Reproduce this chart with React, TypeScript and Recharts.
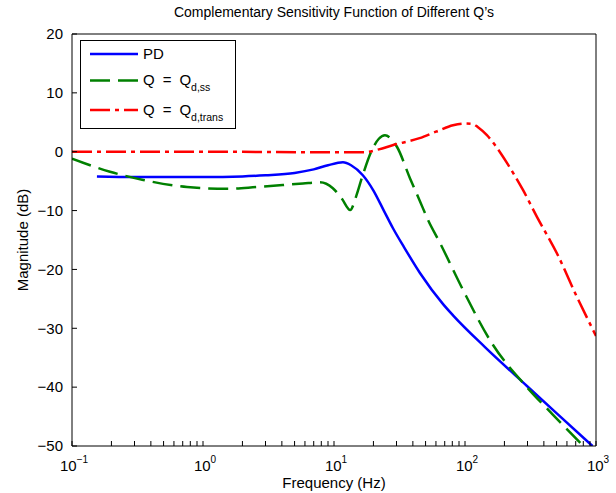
import React from 'react';
import { LineChart, Line, XAxis, YAxis, Legend, Label } from 'recharts';

// PD controller
const pdFreq = [0.155, 0.3, 1, 2, 3, 5, 7, 9, 11.7, 13.5, 16.6, 20, 24, 28.2, 34, 45.3, 68, 81, 142, 297, 504, 940];
const pdMag = [-4.2, -4.3, -4.3, -4.2, -4.0, -3.6, -3.0, -2.3, -1.8, -2.3, -4.0, -6.6, -10, -13.0, -16.1, -20.6, -25.9, -27.8, -33.2, -39.8, -44.5, -50.0];

// Q = Q_d,ss
const ssFreq = [0.1, 0.195, 0.35, 0.755, 1.52, 2.58, 5.8, 7.8, 9.8, 11.5, 13.3, 14.8, 16.4, 19.5, 22, 24.5, 27, 30.3, 38, 45.3, 52.2, 64.4, 96.6, 160, 297, 470, 800];
const ssMag = [-1.2, -3.4, -4.8, -6.0, -6.3, -6.0, -5.4, -5.2, -6.2, -8.0, -9.9, -7.5, -4.3, 0.3, 2.2, 2.8, 2.3, 0.8, -4.5, -8.4, -11.6, -15.5, -23.5, -32.5, -40.0, -44.7, -50.0];

// Q = Q_d,trans
const trFreq = [0.1, 1, 10, 17, 22, 28, 45, 60, 81, 100, 115, 125, 147, 209, 277, 355, 504, 716, 1000];
const trMag = [0, 0, -0.1, -0.1, 0.4, 1.1, 2.3, 3.4, 4.5, 4.8, 4.7, 4.2, 2.8, -1.9, -6.5, -11.1, -17.3, -24.7, -31.3];

const xTicks = [
  0.1, 0.2, 0.3, 0.4, 0.5, 0.6, 0.7, 0.8, 0.9,
  1, 2, 3, 4, 5, 6, 7, 8, 9,
  10, 20, 30, 40, 50, 60, 70, 80, 90,
  100, 200, 300, 400, 500, 600, 700, 800, 900,
  1000,
];
const decadeExp: Record<string, string> = { '0.1': '−1', '1': '0', '10': '1', '100': '2', '1000': '3' };
const yTicks = [-50, -40, -30, -20, -10, 0, 10, 20];

const toRows = (f: number[], m: number[]) => f.map((v, i) => ({ f: v, db: m[i] }));
const pdData = toRows(pdFreq, pdMag);
const ssData = toRows(ssFreq, ssMag);
const trData = toRows(trFreq, trMag);

const FONT = '"Liberation Sans", Arial, Helvetica, sans-serif';

const legendItems = [
  { color: '#0000ff', dash: undefined, sub: '' },
  { color: '#008000', dash: '20 8', sub: 'd,ss' },
  { color: '#ff0000', dash: '20 5 4 5', sub: 'd,trans' },
];

function FreqTick(props: any) {
  const { x, y, payload } = props;
  const exp = decadeExp[String(payload.value)];
  if (exp === undefined) return <g />;
  return (
    <text x={x + 2} y={y + 25} textAnchor="middle" fontSize={15} fill="#000" fontFamily={FONT}>
      <tspan>10</tspan>
      <tspan dy={-8} fontSize={10}>{exp}</tspan>
    </text>
  );
}

function LegendBox() {
  const rowY = [14, 40.5, 70];
  return (
    <svg width={157} height={90} style={{ display: 'block', fontFamily: FONT }}>
      <rect x={0.5} y={0.5} width={155} height={88} fill="#fff" stroke="#000" strokeWidth={1} />
      {legendItems.map((it, i) => (
        <g key={i}>
          <line x1={10} x2={58} y1={rowY[i]} y2={rowY[i]} stroke={it.color} strokeWidth={2.5} strokeDasharray={it.dash} />
          {i === 0 ? (
            <text x={63} y={rowY[i] + 5} fontSize={15} fill="#000">PD</text>
          ) : (
            <text x={63} y={rowY[i] + 4.5} fontSize={15} fill="#000">
              <tspan>Q</tspan>
              <tspan dx={8}>=</tspan>
              <tspan dx={8}>Q</tspan>
              <tspan dy={6} fontSize={10.5}>{it.sub}</tspan>
            </text>
          )}
        </g>
      ))}
    </svg>
  );
}

export default function App() {
  return (
    <div style={{ position: 'absolute', left: 0, top: 0, width: 616, height: 493, background: '#fff', fontFamily: FONT }}>
      <LineChart width={616} height={493} margin={{ top: 24, right: 10, bottom: 7, left: 22 }}>
        <XAxis
          xAxisId="b"
          type="number"
          dataKey="f"
          scale="log"
          domain={[0.1, 1000]}
          allowDataOverflow
          ticks={xTicks}
          interval={0}
          height={40}
          stroke="#000"
          tickSize={-5}
          tickMargin={5}
          tick={<FreqTick />}
        >
          <Label
            content={() => (
              <text x={334} y={488} textAnchor="middle" fontSize={15} fill="#000" fontFamily={FONT}>
                Frequency (Hz)
              </text>
            )}
          />
        </XAxis>
        <XAxis
          xAxisId="t"
          orientation="top"
          type="number"
          dataKey="f"
          scale="log"
          domain={[0.1, 1000]}
          allowDataOverflow
          ticks={xTicks}
          interval={0}
          height={10}
          stroke="#000"
          tickSize={-5}
          tick={false}
        >
          <Label
            content={() => (
              <text x={334} y={17} textAnchor="middle" fontSize={14} fill="#000" fontFamily={FONT}>
                Complementary Sensitivity Function of Different Q’s
              </text>
            )}
          />
        </XAxis>
        <YAxis
          yAxisId="l"
          type="number"
          domain={[-50, 20]}
          allowDataOverflow
          ticks={yTicks}
          interval={0}
          width={50}
          stroke="#000"
          tickSize={-5}
          tickMargin={14}
          tick={{ fontSize: 15, fill: '#000' }}
          tickFormatter={(v: number) => String(v).replace('-', '−')}
        >
          <Label
            content={() => (
              <text
                transform="translate(22,240) rotate(-90)"
                textAnchor="middle"
                dominantBaseline="central"
                fontSize={15}
                fill="#000"
                fontFamily={FONT}
              >
                Magnitude (dB)
              </text>
            )}
          />
        </YAxis>
        <YAxis
          yAxisId="r"
          orientation="right"
          type="number"
          domain={[-50, 20]}
          allowDataOverflow
          ticks={yTicks}
          interval={0}
          width={10}
          stroke="#000"
          tickSize={-5}
          tick={false}
        />
        <Legend
          layout="vertical"
          align="center"
          verticalAlign="middle"
          content={() => <LegendBox />}
          wrapperStyle={{ position: 'absolute', left: 80, top: 40, width: 157, height: 90, margin: 0 }}
        />
        <Line
          xAxisId="b"
          yAxisId="l"
          data={pdData}
          dataKey="db"
          name="PD"
          type="monotone"
          stroke="#0000ff"
          strokeWidth={2.5}
          dot={false}
          isAnimationActive={false}
        />
        <Line
          xAxisId="b"
          yAxisId="l"
          data={ssData}
          dataKey="db"
          name="Q = Q_d,ss"
          type="monotone"
          stroke="#008000"
          strokeWidth={2.5}
          strokeDasharray="20 8"
          dot={false}
          isAnimationActive={false}
        />
        <Line
          xAxisId="b"
          yAxisId="l"
          data={trData}
          dataKey="db"
          name="Q = Q_d,trans"
          type="monotone"
          stroke="#ff0000"
          strokeWidth={2.5}
          strokeDasharray="20 5 4 5"
          dot={false}
          isAnimationActive={false}
        />
      </LineChart>
    </div>
  );
}
